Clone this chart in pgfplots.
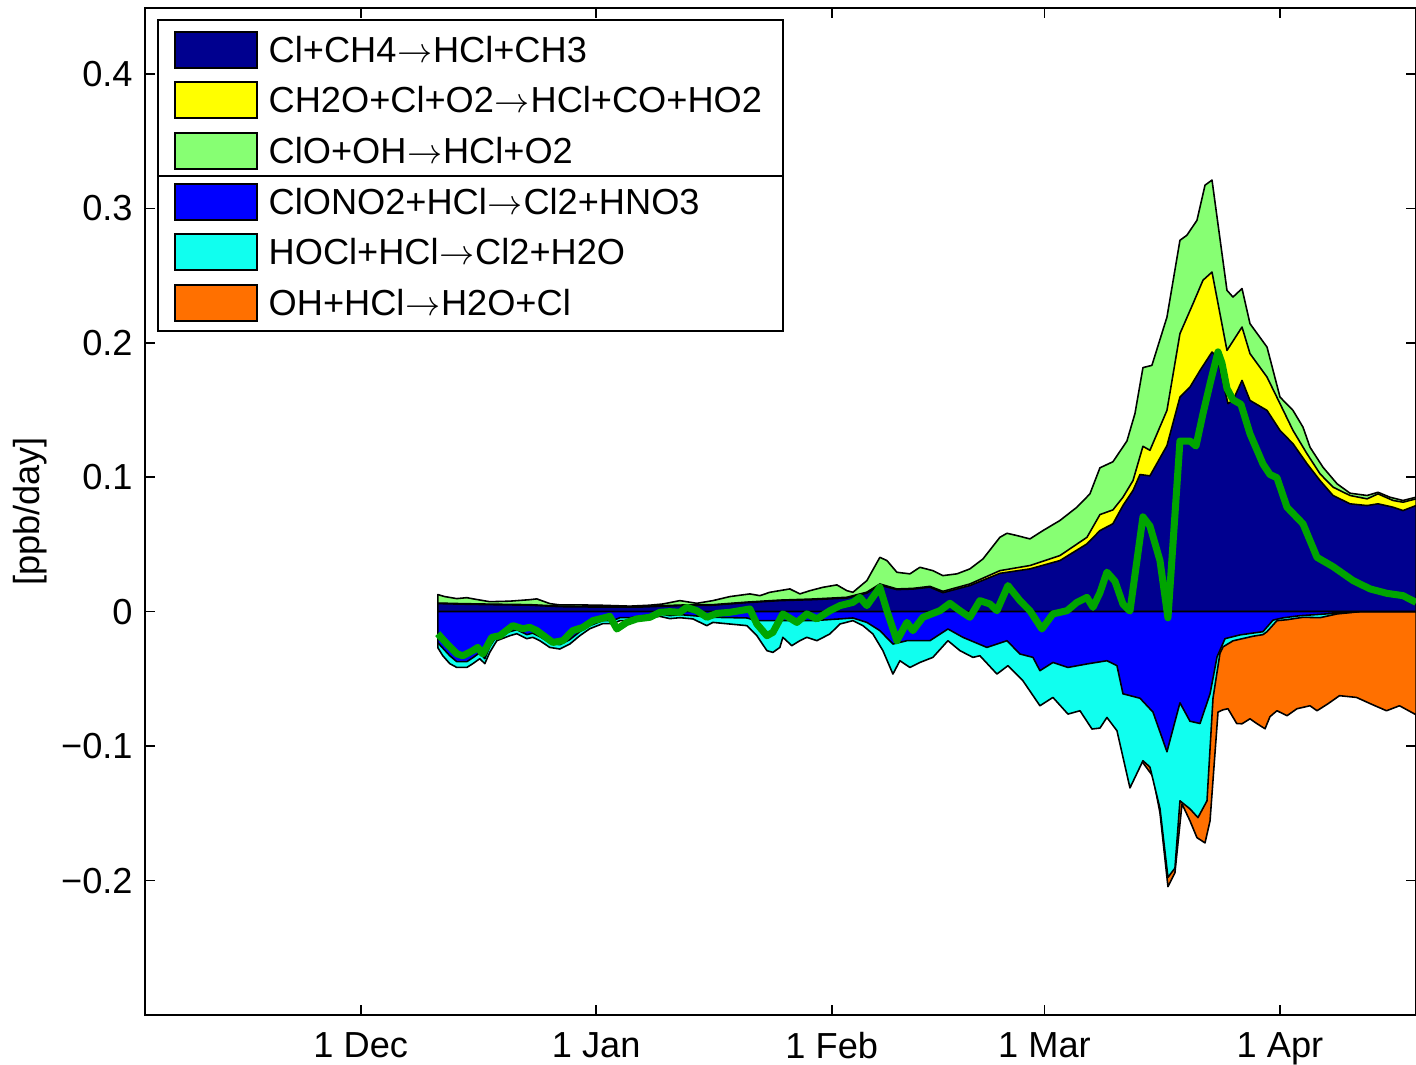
\documentclass[border=0pt]{standalone}
\usepackage{pgfplots}
\pgfplotsset{compat=1.18}
\usepackage{fontspec}
\setmainfont{Liberation Sans}
\newcommand{\arr}{\kern0.02em$\rightarrow$\kern0.02em}
\definecolor{cnavy}{RGB}{0,0,143}
\definecolor{cyel}{RGB}{255,255,0}
\definecolor{clgreen}{RGB}{135,255,115}
\definecolor{cblue}{RGB}{0,0,255}
\definecolor{ccyan}{RGB}{16,255,239}
\definecolor{corange}{RGB}{255,112,0}
\definecolor{cline}{RGB}{0,165,0}
\tikzset{areaedge/.style={draw=black, line width=0.45pt, line join=round}}
\begin{document}
\begin{tikzpicture}[font=\fontsize{10.3}{12.4}\selectfont]
\begin{axis}[name=ax, scale only axis, width=12.71cm, height=10.07cm,
  xmin=-28.4, xmax=138.9, ymin=-0.3, ymax=0.449,
  xtick={0,31,62,90,121}, xticklabels={1 Dec,1 Jan,1 Feb,1 Mar,1 Apr},
  ytick={-0.2,-0.1,0,0.1,0.2,0.3,0.4},
  yticklabels={−0.2,−0.1,0,0.1,0.2,0.3,0.4},
  tick align=inside, xtick pos=both, ytick pos=both, major tick length=0.1cm,
  axis line style={line width=0.45pt},
  every tick/.style={black, line width=0.45pt},
  ticklabel style={font=\fontsize{10.3}{12.4}\selectfont},
  xticklabel style={yshift=-0.05cm},
  ylabel={[ppb/day]},
  every axis y label/.style={at={(axis description cs:-0.0905,0.5)}, rotate=90, anchor=center},
]
% ClO+OH (cumulative top of positive stack)
\addplot[fill=clgreen, areaedge] coordinates {
(10.14,0.0127)(11.06,0.0112)(12.64,0.0097)(13.96,0.0104)(15.01,0.0093)(16.98,0.0074)(19.62,0.0078)(22.25,0.0089)(23.17,0.0095)(24.88,0.0060)(26.20,0.0050)(28.83,0.0050)(31.47,0.0048)(35.42,0.0041)(38.05,0.0048)(39.76,0.0057)(42.00,0.0082)(44.24,0.0062)(46.35,0.0082)(48.58,0.0112)(51.22,0.0132)(52.53,0.0119)(53.85,0.0144)(56.48,0.0169)(57.80,0.0132)(59.12,0.0156)(60.83,0.0181)(62.67,0.0199)(63.99,0.0156)(64.78,0.0144)(66.62,0.0231)(68.33,0.0404)(69.26,0.0380)(70.57,0.0293)(72.28,0.0281)(73.60,0.0330)(75.31,0.0305)(76.63,0.0268)(78.47,0.0281)(80.18,0.0318)(81.90,0.0392)(84.13,0.0553)(85.06,0.0583)(86.37,0.0566)(88.08,0.0541)(89.80,0.0603)(92.03,0.0678)(94.27,0.0777)(95.98,0.0876)(97.30,0.1070)(99.01,0.1115)(100.85,0.1269)(101.91,0.1474)(102.96,0.1815)(104.14,0.1832)(106.12,0.2191)(107.83,0.2762)(108.75,0.2800)(110.07,0.2911)(111.13,0.3172)(112.05,0.3210)(114.02,0.2390)(114.81,0.2340)(116.00,0.2403)(117.05,0.2142)(119.29,0.1968)(121.00,0.1596)(122.71,0.1497)(124.03,0.1372)(124.95,0.1223)(126.66,0.1074)(128.51,0.0951)(130.22,0.0881)(132.46,0.0864)(133.90,0.0888)(135.48,0.0851)(137.19,0.0827)(138.91,0.0851)
} \closedcycle;
% CH2O+Cl+O2
\addplot[fill=cyel, areaedge] coordinates {
(10.14,0.0064)(13.03,0.0060)(16.98,0.0056)(22.25,0.0052)(26.20,0.0041)(31.47,0.0038)(36.73,0.0038)(42.00,0.0049)(46.35,0.0052)(50.82,0.0071)(55.17,0.0086)(59.51,0.0094)(63.99,0.0107)(66.62,0.0145)(68.33,0.0206)(70.57,0.0169)(72.68,0.0173)(74.92,0.0188)(76.63,0.0151)(80.18,0.0206)(84.13,0.0305)(88.08,0.0343)(92.03,0.0417)(95.59,0.0553)(97.30,0.0722)(99.01,0.0757)(100.33,0.0851)(101.65,0.0975)(102.96,0.1230)(103.88,0.1200)(106.12,0.1497)(107.83,0.2068)(109.55,0.2291)(110.86,0.2465)(112.05,0.2526)(114.02,0.1943)(116.00,0.2117)(117.05,0.1919)(119.29,0.1745)(121.00,0.1547)(122.71,0.1348)(124.56,0.1174)(126.27,0.1025)(127.98,0.0926)(130.22,0.0864)(132.46,0.0839)(133.90,0.0876)(135.88,0.0827)(137.19,0.0814)(138.91,0.0839)
} \closedcycle;
% Cl+CH4
\addplot[fill=cnavy, areaedge] coordinates {
(10.14,0.0060)(13.03,0.0056)(16.98,0.0052)(22.25,0.0048)(26.20,0.0037)(31.47,0.0034)(36.73,0.0034)(42.00,0.0045)(46.35,0.0048)(50.82,0.0067)(55.17,0.0082)(59.51,0.0089)(63.99,0.0101)(66.62,0.0138)(68.33,0.0197)(70.57,0.0164)(72.68,0.0168)(74.92,0.0182)(76.63,0.0141)(80.18,0.0194)(84.13,0.0285)(88.08,0.0318)(92.03,0.0380)(95.59,0.0504)(97.30,0.0603)(99.01,0.0654)(100.33,0.0789)(101.65,0.0901)(102.57,0.1020)(103.88,0.1010)(106.12,0.1235)(107.83,0.1596)(109.15,0.1670)(110.47,0.1794)(112.05,0.1931)(112.71,0.1894)(114.15,0.1547)(114.81,0.1571)(116.00,0.1720)(117.05,0.1571)(119.29,0.1497)(121.00,0.1348)(122.71,0.1249)(124.56,0.1100)(126.27,0.0975)(127.98,0.0864)(130.22,0.0802)(132.46,0.0789)(133.90,0.0802)(135.88,0.0777)(137.19,0.0752)(138.91,0.0789)
} \closedcycle;
% OH+HCl (cumulative bottom of negative stack)
\addplot[fill=corange, areaedge] coordinates {
(102.07,-0.1095)(102.96,-0.1124)(104.28,-0.1225)(105.20,-0.1497)(106.25,-0.2045)(107.17,-0.1942)(108.10,-0.1430)(109.15,-0.1556)(110.07,-0.1681)(111.13,-0.1720)(111.79,-0.1556)(112.31,-0.1154)(112.84,-0.0747)(113.50,-0.0730)(114.15,-0.0722)(115.30,-0.0832)(116.00,-0.0834)(117.05,-0.0797)(117.93,-0.0832)(119.03,-0.0871)(119.68,-0.0781)(120.60,-0.0737)(121.92,-0.0774)(123.24,-0.0722)(124.95,-0.0700)(125.87,-0.0737)(127.32,-0.0685)(128.83,-0.0625)(131.07,-0.0638)(133.18,-0.0692)(135.02,-0.0737)(136.73,-0.0700)(138.91,-0.0767)
} \closedcycle;
% HOCl+HCl
\addplot[fill=ccyan, areaedge] coordinates {
(10.14,-0.0268)(10.80,-0.0328)(11.72,-0.0387)(12.64,-0.0415)(13.96,-0.0415)(14.75,-0.0387)(15.67,-0.0350)(16.33,-0.0387)(16.98,-0.0303)(17.91,-0.0216)(19.62,-0.0179)(20.54,-0.0164)(21.86,-0.0201)(22.65,-0.0191)(23.57,-0.0216)(24.88,-0.0266)(26.20,-0.0278)(27.52,-0.0241)(28.83,-0.0179)(30.15,-0.0127)(31.86,-0.0089)(33.18,-0.0089)(34.10,-0.0067)(35.42,-0.0067)(37.13,-0.0052)(39.37,-0.0035)(40.68,-0.0052)(42.00,-0.0045)(43.71,-0.0054)(45.55,-0.0104)(46.35,-0.0080)(48.58,-0.0092)(50.82,-0.0104)(52.14,-0.0179)(53.46,-0.0290)(54.25,-0.0303)(55.17,-0.0266)(55.56,-0.0191)(56.74,-0.0253)(57.80,-0.0216)(58.72,-0.0191)(60.04,-0.0216)(61.75,-0.0166)(63.07,-0.0092)(64.78,-0.0067)(66.10,-0.0104)(67.41,-0.0166)(68.73,-0.0290)(70.05,-0.0464)(70.97,-0.0365)(72.28,-0.0415)(73.60,-0.0378)(75.31,-0.0340)(77.29,-0.0216)(78.87,-0.0290)(80.58,-0.0340)(81.50,-0.0328)(83.74,-0.0464)(85.19,-0.0402)(87.16,-0.0514)(89.40,-0.0700)(91.11,-0.0638)(93.09,-0.0762)(94.67,-0.0737)(96.25,-0.0873)(97.30,-0.0866)(98.22,-0.0787)(99.54,-0.0886)(101.25,-0.1311)(102.96,-0.1109)(103.88,-0.1156)(105.20,-0.1464)(106.25,-0.1976)(107.17,-0.1908)(107.83,-0.1407)(109.15,-0.1467)(110.20,-0.1532)(111.39,-0.1407)(112.18,-0.0644)(113.10,-0.0310)(113.50,-0.0262)(114.81,-0.0217)(117.44,-0.0183)(118.76,-0.0171)(119.29,-0.0149)(120.60,-0.0067)(121.92,-0.0060)(124.03,-0.0042)(126.27,-0.0045)(128.51,-0.0017)(131.53,0)(138.91,0)
} \closedcycle;
% ClONO2+HCl
\addplot[fill=cblue, areaedge] coordinates {
(10.14,-0.0231)(11.72,-0.0328)(12.64,-0.0372)(13.96,-0.0372)(14.75,-0.0343)(15.67,-0.0305)(16.33,-0.0350)(16.98,-0.0261)(17.91,-0.0179)(19.62,-0.0149)(20.54,-0.0134)(21.86,-0.0171)(22.65,-0.0160)(23.57,-0.0186)(24.88,-0.0231)(26.20,-0.0246)(27.52,-0.0208)(28.83,-0.0149)(30.15,-0.0104)(31.86,-0.0067)(33.18,-0.0067)(34.10,-0.0045)(35.42,-0.0045)(37.13,-0.0030)(39.37,-0.0015)(40.68,-0.0030)(42.00,-0.0022)(46.35,-0.0042)(50.82,-0.0047)(52.14,-0.0067)(55.17,-0.0067)(59.51,-0.0067)(63.07,-0.0054)(64.78,-0.0047)(66.62,-0.0080)(68.33,-0.0141)(70.05,-0.0241)(71.89,-0.0216)(73.60,-0.0216)(74.92,-0.0216)(77.29,-0.0129)(79.26,-0.0191)(82.42,-0.0266)(85.06,-0.0216)(86.77,-0.0315)(88.48,-0.0340)(89.40,-0.0439)(91.11,-0.0378)(93.09,-0.0415)(95.59,-0.0389)(98.22,-0.0365)(99.54,-0.0402)(100.33,-0.0611)(102.57,-0.0644)(104.28,-0.0747)(106.12,-0.1042)(107.83,-0.0678)(109.15,-0.0815)(110.47,-0.0832)(111.79,-0.0611)(112.71,-0.0337)(113.76,-0.0201)(115.73,-0.0173)(118.76,-0.0149)(120.08,-0.0063)(121.40,-0.0046)(123.63,-0.0030)(127.58,-0.0015)(131.53,0)(138.91,0)
} \closedcycle;
% net
\addplot[cline, line width=2pt, line join=round] coordinates {
(10.14,-0.0164)(11.32,-0.0238)(12.64,-0.0313)(13.43,-0.0328)(14.75,-0.0290)(15.40,-0.0266)(16.06,-0.0315)(17.25,-0.0191)(18.30,-0.0179)(20.01,-0.0104)(21.33,-0.0127)(22.25,-0.0117)(23.17,-0.0141)(25.28,-0.0229)(26.60,-0.0216)(27.91,-0.0141)(29.23,-0.0117)(30.55,-0.0067)(32.78,-0.0035)(33.71,-0.0129)(35.02,-0.0080)(36.34,-0.0054)(38.05,-0.0042)(39.37,-0.0005)(40.68,0)(42.00,-0.0005)(42.92,0.0032)(44.24,0.0007)(45.55,-0.0042)(46.87,-0.0013)(48.58,-0.0005)(51.22,0.0020)(52.14,-0.0092)(53.46,-0.0179)(54.25,-0.0154)(55.56,-0.0017)(57.41,-0.0080)(58.72,-0.0017)(60.04,-0.0054)(61.75,0.0007)(63.07,0.0045)(64.78,0.0069)(65.70,0.0106)(66.62,0.0045)(68.33,0.0181)(69.26,0.0007)(70.57,-0.0216)(71.89,-0.0080)(72.68,-0.0141)(74.00,-0.0042)(76.23,0.0007)(77.55,0.0062)(78.87,0.0007)(80.18,-0.0042)(81.50,0.0082)(82.82,0.0057)(83.74,0.0007)(85.19,0.0194)(86.77,0.0082)(88.08,0.0007)(89.66,-0.0129)(91.11,-0.0017)(92.96,0.0007)(94.27,0.0069)(95.59,0.0106)(96.38,0.0032)(97.30,0.0141)(98.22,0.0294)(99.28,0.0226)(100.33,0.0056)(101.25,0.0004)(102.96,0.0705)(103.88,0.0637)(105.20,0.0380)(106.25,-0.0046)(107.83,0.1269)(109.15,0.1269)(109.94,0.1232)(110.86,0.1472)(111.79,0.1695)(112.84,0.1932)(113.36,0.1849)(114.02,0.1660)(114.81,0.1576)(115.86,0.1542)(117.05,0.1323)(118.76,0.1098)(119.68,0.1020)(120.60,0.0996)(121.92,0.0777)(124.03,0.0653)(125.87,0.0404)(127.98,0.0335)(130.62,0.0231)(132.86,0.0169)(135.09,0.0136)(137.19,0.0119)(138.91,0.0069)
};
\end{axis}
% legend
\draw[fill=white, line width=0.45pt] (0.13,9.95) rectangle (6.38,6.84);
\draw[line width=0.45pt] (0.13,8.39) -- (6.38,8.39);
\foreach \c/\t/\yy in {cnavy/Cl+CH4\arr HCl+CH3/9.65, cyel/CH2O+Cl+O2\arr HCl+CO+HO2/9.15, clgreen/ClO+OH\arr HCl+O2/8.64, cblue/ClONO2+HCl\arr Cl2+HNO3/8.13, ccyan/HOCl+HCl\arr Cl2+H2O/7.63, corange/OH+HCl\arr H2O+Cl/7.12} {
  \draw[fill=\c, line width=0.45pt] (0.30,\yy-0.18) rectangle (1.12,\yy+0.18);
  \node[anchor=base west, inner sep=0pt] at (1.23,\yy-0.13) {\t};
}
\pgfresetboundingbox
\path (-1.45,-0.50) rectangle (12.71,10.15);
\end{tikzpicture}
\end{document}
